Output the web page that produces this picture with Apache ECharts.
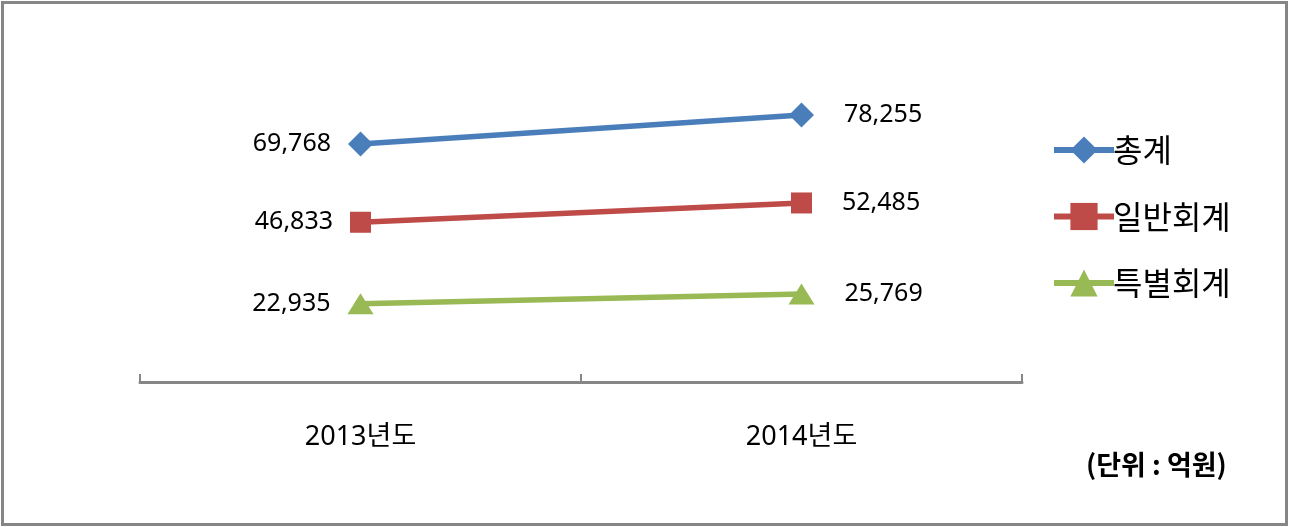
<!DOCTYPE html>
<html>
<head>
<meta charset="utf-8">
<script src="https://cdn.jsdelivr.net/npm/echarts@6/dist/echarts.min.js"></script>
<style>
  html, body { margin: 0; padding: 0; background: #fff; }
  #chart { width: 1289px; height: 527px; }
</style>
</head>
<body>
<div id="chart"></div>
<script>
var categories = ['2013년도', '2014년도'];
var totalValues = [69768, 78255];     // 총계
var generalValues = [46833, 52485];   // 일반회계
var specialValues = [22935, 25769];   // 특별회계
var seriesNames = ['총계', '일반회계', '특별회계'];
var unitText = '(단위 : 억원)';

var numFont = '"Noto Sans", "Noto Sans CJK KR", sans-serif';
var krFont = '"Noto Sans CJK KR", "Noto Sans", sans-serif';

function fmt(v) {
    return v.toLocaleString('en-US');
}

function makeSeries(name, values, color, symbol, size) {
    return {
        name: name,
        type: 'line',
        symbol: symbol,
        symbolSize: size,
        lineStyle: { color: color, width: 5.5 },
        itemStyle: { color: color },
        // first point label on the left, second on the right
        data: values.map(function (v, i) {
            return {
                value: v,
                label: { position: i === 0 ? 'left' : 'right', distance: i === 0 ? 17 : 30 }
            };
        }),
        label: {
            show: true,
            formatter: function (p) { return fmt(p.value); },
            fontFamily: numFont,
            fontSize: 25,
            color: '#000'
        },
        emphasis: { disabled: true }
    };
}

var chart = echarts.init(document.getElementById('chart'));

var option = {
    animation: false,
    backgroundColor: '#fff',
    grid: { left: 140, right: 267, top: 75, bottom: 145 },
    legend: {
        orient: 'vertical',
        left: 1046,
        top: 129,
        itemGap: 34.5,
        itemWidth: 60,
        itemHeight: 34,
        lineStyle: { width: 6 },
        textStyle: { fontFamily: krFont, fontSize: 32, color: '#000', padding: [0, 0, 0, -6] },
        data: seriesNames
    },
    xAxis: {
        type: 'category',
        data: categories,
        boundaryGap: true,
        axisLine: { lineStyle: { color: '#868686', width: 3 } },
        axisTick: { show: true, inside: true, length: 8, lineStyle: { color: '#868686', width: 2 } },
        axisLabel: { margin: 42, fontFamily: numFont, fontSize: 27, color: '#000' }
    },
    yAxis: {
        type: 'value',
        min: 0,
        max: 90000,
        show: false,
        splitLine: { show: false }
    },
    graphic: [
        {
            type: 'rect',
            shape: { x: 2.5, y: 2.5, width: 1284, height: 522 },
            style: { fill: 'none', stroke: '#868686', lineWidth: 3 },
            silent: true
        },
        {
            type: 'text',
            left: 1086,
            top: 451,
            style: {
                text: unitText,
                font: 'bold 27px ' + krFont,
                fill: '#000'
            }
        }
    ],
    series: [
        makeSeries(seriesNames[0], totalValues, '#4A7EBB', 'diamond', [25, 25]),
        makeSeries(seriesNames[1], generalValues, '#BE4B48', 'rect', [21, 21]),
        makeSeries(seriesNames[2], specialValues, '#98B954', 'triangle', [26, 21])
    ]
};

chart.setOption(option);
</script>
</body>
</html>
